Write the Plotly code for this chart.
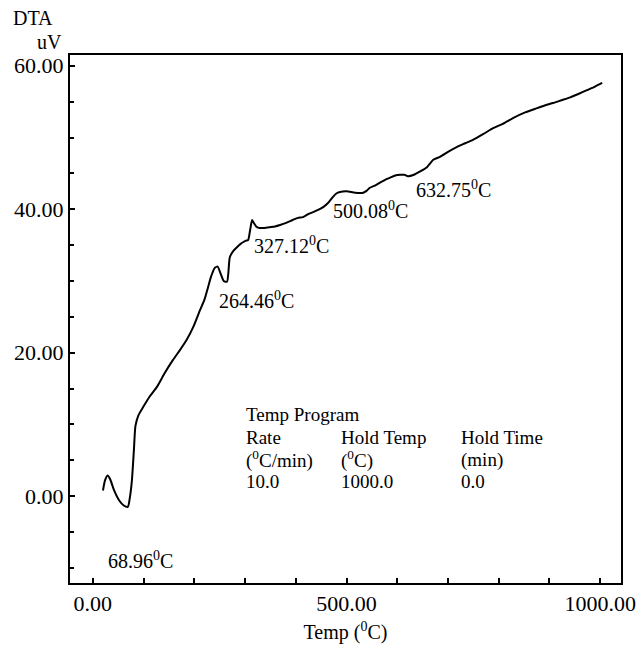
import plotly.graph_objects as go

# DTA trace: temperature (deg C) vs signal (uV)
temp_c = [20, 24, 29, 34, 42, 52, 61, 68.96, 73, 77, 81, 84, 90, 99, 112, 126, 142,
          158, 172, 185, 198, 211, 220, 227, 233, 240, 246, 252, 258, 264.46,
          270, 277, 284, 290, 296, 301, 306, 310, 314, 318, 322, 327.12, 338, 349,
          359, 369, 381, 394, 404, 414, 424, 434, 444, 454, 464, 473, 480, 487,
          500.08, 517, 533, 540, 546, 556, 566, 576, 586, 596, 606, 614, 621,
          632.75, 646, 659, 665, 671, 684, 700, 718, 734, 750, 770, 789, 808,
          828, 852, 876, 892, 907, 924, 941, 958, 974, 990, 1004]
dta_uv = [0.8, 2.2, 2.9, 2.4, 0.8, -0.6, -1.3, -1.5, -0.2, 2.2, 6.5, 9.8, 11.3, 12.4,
          13.9, 15.2, 17.2, 19.0, 20.4, 21.8, 23.6, 25.9, 27.4, 29.1, 30.6, 31.8,
          32.0, 31.0, 30.0, 29.9, 33.3, 34.2, 34.7, 35.1, 35.4, 35.6, 35.7, 37.1,
          38.5, 38.0, 37.6, 37.4, 37.4, 37.5, 37.6, 37.8, 38.1, 38.5, 38.8, 38.9,
          39.3, 39.6, 39.9, 40.3, 40.9, 41.7, 42.2, 42.4, 42.5, 42.3, 42.3, 42.6,
          43.0, 43.3, 43.7, 44.1, 44.4, 44.7, 44.8, 44.8, 44.6, 44.8, 45.3, 45.9,
          46.4, 46.9, 47.3, 48.0, 48.7, 49.2, 49.7, 50.5, 51.3, 51.9, 52.7, 53.5,
          54.1, 54.5, 54.8, 55.2, 55.6, 56.1, 56.6, 57.1, 57.6]

peak_labels = ["68.96", "264.46", "327.12", "500.08", "632.75"]
peak_label_pos = [(28, -8.9), (247, 27.3), (316, 35.0), (471, 39.9), (634, 42.8)]

x_tick_vals = [0, 500, 1000]
y_tick_vals = [0, 20, 40, 60]

program_title = "Temp Program"
program_rows = [
    ["Rate", "Hold Temp", "Hold Time"],
    ["(<sup>0</sup>C/min)", "(<sup>0</sup>C)", "(min)"],
    ["10.0", "1000.0", "0.0"],
]
program_cols_x = [300, 487, 724]
program_rows_y = [8.2, 5.1, 2.0]

FONT = "Liberation Serif"
fs = 20
table_fs = 19
tick_fs = 22

fig = go.Figure()
fig.add_trace(go.Scatter(x=temp_c, y=dta_uv, mode="lines",
                         line=dict(color="black", width=2, shape="spline", smoothing=0.6),
                         hoverinfo="skip"))

ann = []
for lab, (px, py) in zip(peak_labels, peak_label_pos):
    ann.append(dict(x=px, y=py, xref="x", yref="y", text=f"{lab}<sup>0</sup>C",
                    showarrow=False, xanchor="left", yanchor="middle", borderpad=0,
                    font=dict(family=FONT, size=fs, color="black")))

ann.append(dict(x=300, y=11.4, xref="x", yref="y", text=program_title, showarrow=False,
                xanchor="left", yanchor="middle", borderpad=0,
                font=dict(family=FONT, size=table_fs, color="black")))
for row, yv in zip(program_rows, program_rows_y):
    for txt, xv in zip(row, program_cols_x):
        ann.append(dict(x=xv, y=yv, xref="x", yref="y", text=txt, showarrow=False,
                        xanchor="left", yanchor="middle", borderpad=0,
                        font=dict(family=FONT, size=table_fs, color="black")))

# y-axis caption above the axis
ann.append(dict(x=-0.067, y=1.0, xref="paper", yref="paper", xanchor="center",
                yanchor="middle", yshift=37, text="DTA", showarrow=False,
                font=dict(family=FONT, size=fs, color="black")))
ann.append(dict(x=-0.038, y=1.0, xref="paper", yref="paper", xanchor="center",
                yanchor="middle", yshift=13, text="uV", showarrow=False,
                font=dict(family=FONT, size=fs, color="black")))

fig.update_layout(
    width=639, height=651,
    margin=dict(l=70, r=18, t=55, b=68),
    paper_bgcolor="white", plot_bgcolor="white",
    showlegend=False,
    annotations=ann,
    font=dict(family=FONT, size=fs, color="black"),
)
fig.update_xaxes(
    range=[-45, 1041], showgrid=False, zeroline=False, automargin=False,
    showline=True, linecolor="black", linewidth=2, mirror=True,
    tickvals=x_tick_vals, ticktext=[f"{v:.2f}" for v in x_tick_vals],
    ticks="inside", ticklen=5, tickwidth=1.5, tickcolor="black",
    minor=dict(dtick=100, tick0=0, ticks="inside", ticklen=5, tickwidth=1.5, tickcolor="black"),
    title=dict(text="Temp (<sup>0</sup>C)", font=dict(family=FONT, size=fs), standoff=10),
    tickfont=dict(family=FONT, size=tick_fs),
)
fig.update_yaxes(
    range=[-12.1, 61.5], showgrid=False, zeroline=False, automargin=False,
    showline=True, linecolor="black", linewidth=2, mirror=True,
    tickvals=y_tick_vals, ticktext=[f"{v:.2f}" for v in y_tick_vals],
    ticks="inside", ticklen=5, tickwidth=1.5, tickcolor="black",
    minor=dict(dtick=5, tick0=0, ticks="inside", ticklen=4, tickwidth=1.5, tickcolor="black"),
    tickfont=dict(family=FONT, size=tick_fs),
)

fig.write_html("out.html")
